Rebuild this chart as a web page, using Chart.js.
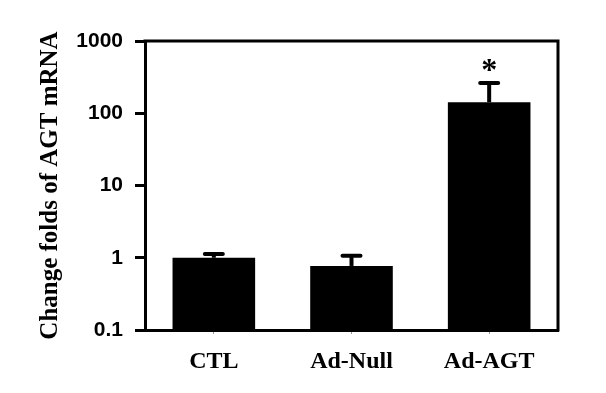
<!DOCTYPE html>
<html>
<head>
<meta charset="utf-8">
<script src="https://cdn.jsdelivr.net/npm/chart.js@4/dist/chart.umd.min.js"></script>
<style>
  html, body { margin: 0; padding: 0; background: #fff; }
  #wrap { width: 606px; height: 393px; }
</style>
</head>
<body>
<div id="wrap"><canvas id="agtChart" width="606" height="393"></canvas></div>
<script>
// values
const groups = ['CTL', 'Ad-Null', 'Ad-AGT'];
const foldChange = [1.0, 0.77, 142];
const foldSem = [0.13, 0.30, 120];
const significant = [false, false, true];
const yTicks = [0.1, 1, 10, 100, 1000];

// error bars (upper only), box frame and the asterisk
const extras = {
  id: 'extras',
  afterDatasetsDraw(chart) {
    const c = chart.ctx;
    const x = chart.scales.x, y = chart.scales.y;
    const area = chart.chartArea;
    c.save();
    c.strokeStyle = '#000';
    c.fillStyle = '#000';
    foldChange.forEach((v, i) => {
      const cx = x.getPixelForValue(i);
      const yTop = y.getPixelForValue(v);
      const yErr = y.getPixelForValue(v + foldSem[i]);
      c.lineWidth = 4;
      c.lineCap = 'butt';
      c.beginPath();
      c.moveTo(cx, yTop);
      c.lineTo(cx, yErr);
      c.stroke();
      c.lineCap = 'round';
      c.beginPath();
      c.moveTo(cx - 9, yErr);
      c.lineTo(cx + 9, yErr);
      c.stroke();
      if (significant[i]) {
        c.font = 'bold 32px "Liberation Serif"';
        c.textAlign = 'center';
        c.textBaseline = 'alphabetic';
        c.fillText('*', cx, yErr - 3);
      }
    });
    // top and right side of the frame
    c.lineWidth = 3;
    c.lineCap = 'square';
    c.beginPath();
    c.moveTo(area.left, area.top);
    c.lineTo(area.right, area.top);
    c.lineTo(area.right, area.bottom);
    c.stroke();
    c.restore();
  }
};

const ctx = document.getElementById('agtChart').getContext('2d');
const agtChart = new Chart(ctx, {
  type: 'bar',
  data: {
    labels: groups,
    datasets: [{
      data: foldChange,
      backgroundColor: '#000',
      borderWidth: 0,
      barPercentage: 0.6,
      categoryPercentage: 1.0
    }]
  },
  options: {
    responsive: false,
    animation: false,
    layout: { padding: { top: 41, right: 48, left: 0, bottom: 0 } },
    plugins: { legend: { display: false }, tooltip: { enabled: false } },
    scales: {
      x: {
        grid: { display: true, drawOnChartArea: false, offset: false, tickLength: 4, color: '#999', lineWidth: 1 },
        border: { display: true, color: '#000', width: 3 },
        ticks: { color: '#000', padding: 13, font: { family: '"Liberation Serif"', weight: 'bold', size: 24 } },
        afterFit(s) { s.height = 63; }
      },
      y: {
        type: 'logarithmic',
        min: 0.1,
        max: 1000,
        afterBuildTicks(s) { s.ticks = yTicks.map(v => ({ value: v })); },
        grid: { display: true, drawOnChartArea: false, tickLength: 10, color: '#000', lineWidth: 3 },
        border: { display: true, color: '#000', width: 3 },
        ticks: {
          color: '#000',
          padding: 12,
          font: { family: '"Liberation Sans"', weight: 'bold', size: 21 },
          callback: v => String(v)
        },
        title: {
          display: true,
          text: 'Change folds of AGT mRNA',
          color: '#000',
          padding: { top: 36, bottom: 0 },
          font: { family: '"Liberation Serif"', weight: 'bold', size: 25 }
        },
        afterFit(s) { s.width = 145; }
      }
    }
  },
  plugins: [extras]
});
</script>
</body>
</html>
